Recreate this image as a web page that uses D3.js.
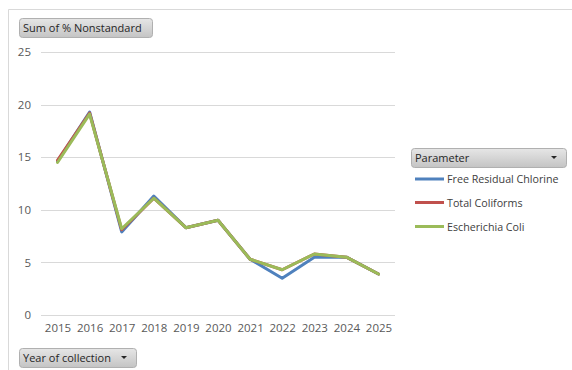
<!DOCTYPE html>
<html><head><meta charset="utf-8">
<script src="https://cdn.jsdelivr.net/npm/d3@7"></script>
<style>body{margin:0;background:#fff}svg{display:block}text{font-family:"Open Sans",sans-serif}</style>
</head><body><svg id="c" width="572" height="370"></svg>
<script>
const years = ["2015","2016","2017","2018","2019","2020","2021","2022","2023","2024","2025"];
const seriesNames = ["Free Residual Chlorine","Total Coliforms","Escherichia Coli"];
const chlorine = [14.6,19.3,7.9,11.3,8.3,9.0,5.3,3.5,5.5,5.5,3.9];
const coliforms = [14.7,19.2,8.1,11.1,8.3,9.0,5.3,4.3,5.8,5.5,3.9];
const ecoli = [14.5,19.1,8.2,11.1,8.3,9.0,5.3,4.3,5.8,5.5,3.9];
const yTicks = [0,5,10,15,20,25];
const colors = ["#4F81BD","#C0504D","#9BBB59"];
const data = [chlorine, coliforms, ecoli];

const svg = d3.select("#c");
const defs = svg.append("defs");
const g = defs.append("linearGradient").attr("id","btn").attr("x1",0).attr("y1",0).attr("x2",0).attr("y2",1);
g.append("stop").attr("offset","0%").attr("stop-color","#e6e6e6");
g.append("stop").attr("offset","100%").attr("stop-color","#c4c4c4");

// outer border
svg.append("path").attr("d","M8.5,370 V9.5 H572").attr("fill","none").attr("stroke","#d9d9d9");

const x = d3.scalePoint().domain(years).range([57.5,378.5]);
const y = d3.scaleLinear().domain([0,25]).range([315,52]);

// grid
svg.append("g").selectAll("line").data(yTicks).join("line")
  .attr("x1",41).attr("x2",395).attr("y1",d=>Math.round(y(d))+0.5).attr("y2",d=>Math.round(y(d))+0.5)
  .attr("stroke","#d9d9d9");

const yAxis = svg.append("g").attr("transform","translate(41,0)")
  .call(d3.axisLeft(y).tickValues(yTicks).tickSize(0).tickPadding(10));
yAxis.select(".domain").remove();
yAxis.selectAll("text").attr("fill","#595959").style("font-size","11.5px").style("font-family","'Open Sans',sans-serif");

const xAxis = svg.append("g").attr("transform","translate(0,322)")
  .call(d3.axisBottom(x).tickSize(0).tickPadding(2));
xAxis.select(".domain").remove();
xAxis.selectAll("text").attr("fill","#595959").style("font-size","11.5px").style("font-family","'Open Sans',sans-serif");

const line = d3.line().x((d,i)=>x(years[i])).y(d=>y(d));
data.forEach((s,k)=>{
  svg.append("path").attr("d",line(s)).attr("fill","none").attr("stroke",colors[k])
    .attr("stroke-width",3).attr("stroke-linejoin","round").attr("stroke-linecap","round");
});

function button(x0,y0,w,h,label,arrow){
  svg.append("rect").attr("x",x0+0.5).attr("y",y0+0.5).attr("width",w).attr("height",h).attr("rx",3)
    .attr("fill","url(#btn)").attr("stroke","#b0b0b0");
  svg.append("text").attr("x",x0+4).attr("y",y0+h/2+4).attr("fill","#262626").style("font-size","11px").text(label);
  if(arrow){
    const ax=x0+w-12, ay=y0+h/2;
    svg.append("path").attr("d",`M${ax-3},${ay-1.5} L${ax+3},${ay-1.5} L${ax},${ay+1.5} Z`).attr("fill","#262626");
  }
}
button(19,18,133,19,"Sum of % Nonstandard",false);
button(19,348,117,19,"Year of collection",true);
button(411,148,155,19,"Parameter",true);

const ly=[179,202.5,226.5];
seriesNames.forEach((n,k)=>{
  svg.append("line").attr("x1",415).attr("x2",444).attr("y1",ly[k]).attr("y2",ly[k])
    .attr("stroke",colors[k]).attr("stroke-width",3);
  svg.append("text").attr("x",447).attr("y",ly[k]+4).attr("fill","#404040").style("font-size","10.7px").text(n);
});
</script></body></html>
